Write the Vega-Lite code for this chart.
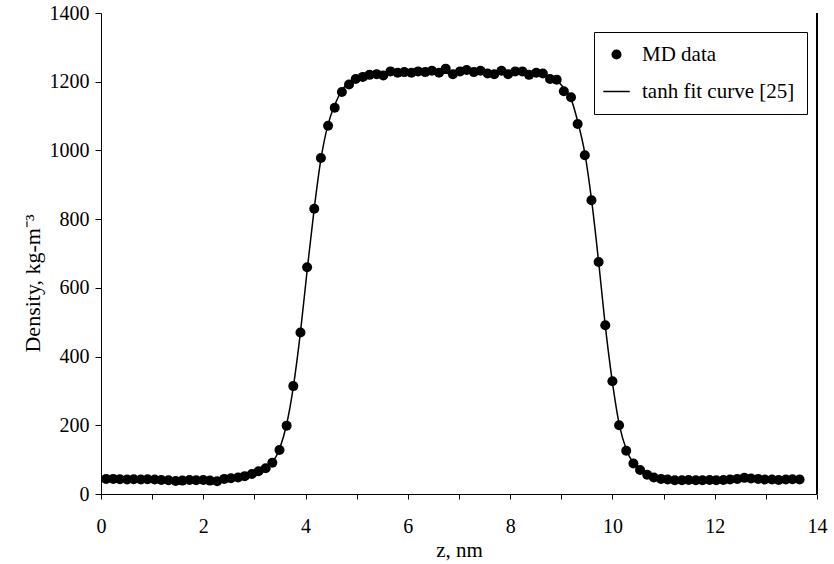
{
  "$schema": "https://vega.github.io/schema/vega-lite/v6.json",
  "width": 716,
  "height": 481,
  "autosize": {"type": "none"},
  "padding": {"left": 101, "top": 13, "right": 17, "bottom": 70},
  "background": "white",
  "config": {
    "view": {"stroke": null},
    "font": "Liberation Serif",
    "axis": {
      "grid": false,
      "domainColor": "black",
      "tickColor": "black",
      "labelColor": "black",
      "titleColor": "black",
      "labelFont": "Liberation Serif",
      "titleFont": "Liberation Serif",
      "labelFontSize": 20,
      "titleFontSize": 21,
      "titleFontWeight": "normal",
      "domainWidth": 1,
      "tickWidth": 1
    }
  },
  "data": {
    "values": [
      {"z": 0.10, "rho": 44, "fit": 42},
      {"z": 0.24, "rho": 44, "fit": 42},
      {"z": 0.37, "rho": 43, "fit": 42},
      {"z": 0.51, "rho": 42, "fit": 42},
      {"z": 0.64, "rho": 43, "fit": 42},
      {"z": 0.78, "rho": 42, "fit": 42},
      {"z": 0.91, "rho": 43, "fit": 42},
      {"z": 1.05, "rho": 42, "fit": 42},
      {"z": 1.18, "rho": 41, "fit": 42},
      {"z": 1.32, "rho": 40, "fit": 42},
      {"z": 1.46, "rho": 38, "fit": 42},
      {"z": 1.59, "rho": 39, "fit": 42},
      {"z": 1.73, "rho": 41, "fit": 42},
      {"z": 1.86, "rho": 40, "fit": 42},
      {"z": 2.00, "rho": 41, "fit": 42},
      {"z": 2.13, "rho": 39, "fit": 42.2},
      {"z": 2.27, "rho": 37, "fit": 42.3},
      {"z": 2.41, "rho": 44, "fit": 42.6},
      {"z": 2.54, "rho": 46, "fit": 43.1},
      {"z": 2.68, "rho": 48, "fit": 44.2},
      {"z": 2.81, "rho": 52, "fit": 46},
      {"z": 2.95, "rho": 58, "fit": 50},
      {"z": 3.08, "rho": 66, "fit": 57},
      {"z": 3.22, "rho": 75, "fit": 70},
      {"z": 3.35, "rho": 91, "fit": 91},
      {"z": 3.49, "rho": 128, "fit": 131},
      {"z": 3.63, "rho": 199, "fit": 203},
      {"z": 3.76, "rho": 314, "fit": 311},
      {"z": 3.90, "rho": 470, "fit": 471},
      {"z": 4.03, "rho": 660, "fit": 650},
      {"z": 4.17, "rho": 830, "fit": 832},
      {"z": 4.30, "rho": 978, "fit": 975},
      {"z": 4.44, "rho": 1072, "fit": 1076},
      {"z": 4.57, "rho": 1124, "fit": 1132},
      {"z": 4.71, "rho": 1170, "fit": 1175},
      {"z": 4.85, "rho": 1192, "fit": 1198},
      {"z": 4.98, "rho": 1208, "fit": 1210},
      {"z": 5.12, "rho": 1214, "fit": 1217},
      {"z": 5.25, "rho": 1220, "fit": 1221},
      {"z": 5.39, "rho": 1222, "fit": 1223},
      {"z": 5.52, "rho": 1218, "fit": 1224},
      {"z": 5.66, "rho": 1230, "fit": 1225},
      {"z": 5.80, "rho": 1226, "fit": 1225},
      {"z": 5.93, "rho": 1228, "fit": 1225},
      {"z": 6.07, "rho": 1226, "fit": 1225},
      {"z": 6.20, "rho": 1230, "fit": 1225},
      {"z": 6.34, "rho": 1228, "fit": 1225},
      {"z": 6.47, "rho": 1232, "fit": 1225},
      {"z": 6.61, "rho": 1226, "fit": 1225},
      {"z": 6.74, "rho": 1238, "fit": 1225},
      {"z": 6.88, "rho": 1222, "fit": 1225},
      {"z": 7.02, "rho": 1230, "fit": 1225},
      {"z": 7.15, "rho": 1234, "fit": 1225},
      {"z": 7.29, "rho": 1228, "fit": 1225},
      {"z": 7.42, "rho": 1232, "fit": 1225},
      {"z": 7.56, "rho": 1224, "fit": 1225},
      {"z": 7.69, "rho": 1222, "fit": 1225},
      {"z": 7.83, "rho": 1232, "fit": 1225},
      {"z": 7.96, "rho": 1222, "fit": 1225},
      {"z": 8.10, "rho": 1230, "fit": 1225},
      {"z": 8.24, "rho": 1230, "fit": 1224},
      {"z": 8.37, "rho": 1220, "fit": 1223},
      {"z": 8.51, "rho": 1226, "fit": 1222},
      {"z": 8.64, "rho": 1224, "fit": 1219},
      {"z": 8.78, "rho": 1208, "fit": 1213},
      {"z": 8.91, "rho": 1206, "fit": 1203},
      {"z": 9.05, "rho": 1172, "fit": 1182},
      {"z": 9.19, "rho": 1155, "fit": 1150},
      {"z": 9.32, "rho": 1077, "fit": 1085},
      {"z": 9.46, "rho": 986, "fit": 992},
      {"z": 9.59, "rho": 855, "fit": 858},
      {"z": 9.73, "rho": 675, "fit": 676},
      {"z": 9.86, "rho": 491, "fit": 490},
      {"z": 10.00, "rho": 328, "fit": 325},
      {"z": 10.13, "rho": 200, "fit": 205},
      {"z": 10.27, "rho": 126, "fit": 130},
      {"z": 10.41, "rho": 89, "fit": 89},
      {"z": 10.54, "rho": 70, "fit": 68},
      {"z": 10.68, "rho": 56, "fit": 55},
      {"z": 10.81, "rho": 48, "fit": 49},
      {"z": 10.95, "rho": 44, "fit": 45.5},
      {"z": 11.08, "rho": 42, "fit": 44},
      {"z": 11.22, "rho": 40, "fit": 43},
      {"z": 11.36, "rho": 40, "fit": 42.5},
      {"z": 11.49, "rho": 41, "fit": 42.2},
      {"z": 11.63, "rho": 40, "fit": 42},
      {"z": 11.76, "rho": 40, "fit": 42},
      {"z": 11.90, "rho": 41, "fit": 42},
      {"z": 12.03, "rho": 40, "fit": 42},
      {"z": 12.17, "rho": 41, "fit": 42},
      {"z": 12.30, "rho": 42, "fit": 42},
      {"z": 12.44, "rho": 44, "fit": 42},
      {"z": 12.58, "rho": 47, "fit": 42},
      {"z": 12.71, "rho": 45, "fit": 42},
      {"z": 12.85, "rho": 44, "fit": 42},
      {"z": 12.98, "rho": 42, "fit": 42},
      {"z": 13.12, "rho": 42, "fit": 42},
      {"z": 13.25, "rho": 41, "fit": 42},
      {"z": 13.39, "rho": 42, "fit": 42},
      {"z": 13.52, "rho": 43, "fit": 42},
      {"z": 13.66, "rho": 42, "fit": 42}
    ]
  },
  "encoding": {
    "x": {
      "field": "z",
      "type": "quantitative",
      "scale": {"domain": [0, 14], "nice": false, "zero": false},
      "axis": {
        "title": "z, nm",
        "values": [0, 1, 2, 3, 4, 5, 6, 7, 8, 9, 10, 11, 12, 13, 14],
        "format": "d",
        "labelExpr": "datum.value % 2 === 0 ? datum.label : ''",
        "tickSize": 5,
        "labelPadding": 17,
        "titlePadding": 3,
        "labelFlush": false,
        "labelOverlap": false
      }
    }
  },
  "layer": [
    {
      "mark": {"type": "rule", "color": "black", "strokeWidth": 1},
      "encoding": {"x": {"datum": 14}, "y": {"datum": 0}, "y2": {"datum": 1400}}
    },
    {
      "mark": {"type": "line", "strokeWidth": 1.5, "interpolate": "monotone", "color": "black"},
      "encoding": {
        "y": {
          "field": "fit",
          "type": "quantitative",
          "scale": {"domain": [0, 1400], "nice": false},
          "axis": {
            "title": "Density, kg-m⁻³",
            "titleFontSize": 22,
            "format": "d",
            "values": [0, 200, 400, 600, 800, 1000, 1200, 1400],
            "tickSize": 6,
            "labelPadding": 6,
            "titleAngle": 270,
            "titleX": -62,
            "titleY": 270,
            "titleAlign": "center",
            "titleBaseline": "alphabetic"
          }
        },
        "color": {
          "datum": "tanh fit curve [25]",
          "type": "nominal",
          "scale": {"domain": ["MD data", "tanh fit curve [25]"], "range": ["black", "black"]},
          "legend": {
            "title": null,
            "orient": "none",
            "legendX": 493,
            "legendY": 19,
            "padding": 12,
            "rowPadding": 15,
            "labelOffset": 15,
            "labelFont": "Liberation Serif",
            "labelFontSize": 21,
            "labelColor": "black",
            "labelLimit": 400,
            "strokeColor": "black",
            "fillColor": "white",
            "symbolSize": 100,
            "encode": {
              "symbols": {
                "update": {
                  "fill": {"signal": "datum.value === 'MD data' ? 'black' : 'transparent'"},
                  "stroke": {"value": "black"},
                  "strokeWidth": {"signal": "datum.value === 'MD data' ? 0 : 1.5"},
                  "size": {"signal": "datum.value === 'MD data' ? 100 : 700"},
                  "shape": {"signal": "datum.value === 'MD data' ? 'circle' : 'stroke'"},
                  "opacity": {"value": 1}
                }
              }
            }
          }
        }
      }
    },
    {
      "mark": {"type": "point", "filled": true, "size": 100, "opacity": 1},
      "encoding": {
        "y": {"field": "rho", "type": "quantitative"},
        "color": {"datum": "MD data", "type": "nominal"}
      }
    }
  ]
}
